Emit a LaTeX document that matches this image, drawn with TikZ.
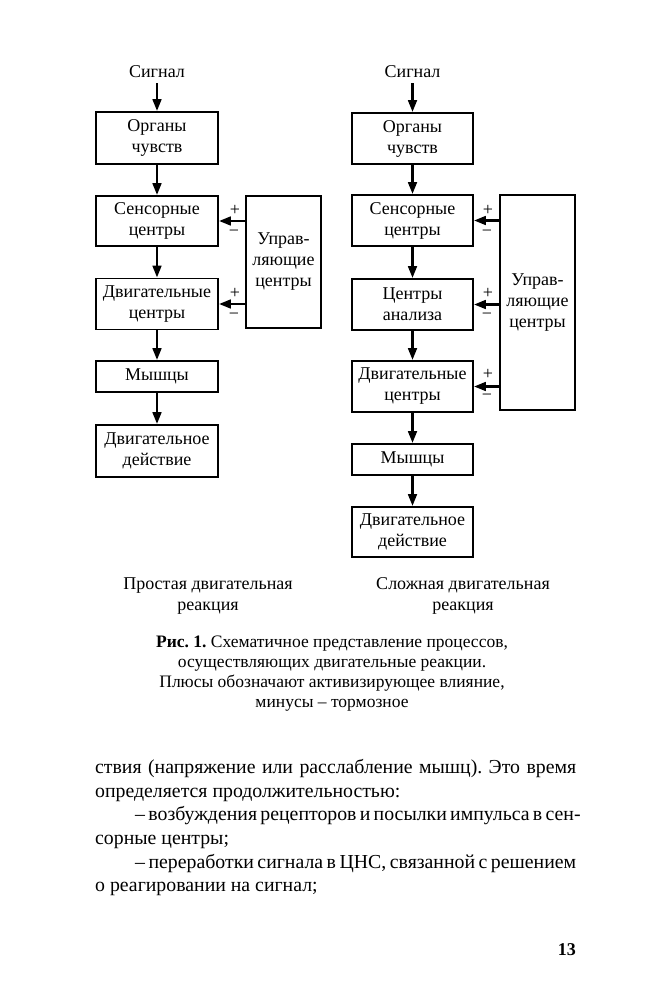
\documentclass[tikz,border=0pt]{standalone}
\usepackage{fontspec}
\setmainfont{Liberation Serif}
\usetikzlibrary{arrows.meta}
\newcommand\dfont{\fontsize{18}{21}\selectfont}
\newcommand\cfont{\fontsize{17.5}{20}\selectfont}
\newcommand\bfont{\fontsize{19.8}{23.6}\selectfont}
\frenchspacing
\begin{document}
\begin{tikzpicture}[x=1pt,y=-1pt,
  box/.style={draw, line width=1.6pt, font=\dfont, align=center, inner sep=0pt, minimum width=122pt},
  ctrl/.style={draw, line width=1.6pt, font=\dfont, align=center, inner sep=0pt, minimum width=75pt},
  arr/.style={line width=2.8pt, -{Triangle[width=8.5pt,length=12pt]}},
  lbl/.style={font=\dfont, inner sep=0pt},
  pm/.style={font=\dfont, inner sep=0pt}]
\useasboundingbox (0,0) rectangle (651,1000);
\fill[white] (0,0) rectangle (651,1000);

% ---------- left diagram ----------
\node[lbl, anchor=base] (sigL) at (157,78) {Сигнал};
\node[box, minimum height=52pt] (orgL) at (157,138) {Органы\\чувств};
\node[box, minimum height=50pt] (sensL) at (157,221) {Сенсорные\\центры};
\node[box, minimum height=51pt] (motL) at (157,304) {Двигательные\\центры};
\node[box, minimum height=31pt] (musL) at (157,376.5) {Мышцы};
\node[box, minimum height=52pt] (actL) at (157,451) {Двигательное\\действие};
\node[ctrl, minimum height=132pt] (ctrlL) at (283.5,262) {Управ-\\ляющие\\центры};

\draw[arr] ([yshift=-5pt]sigL.south) -- (orgL.north);
\draw[arr] (orgL) -- (sensL);
\draw[arr] (sensL) -- (motL);
\draw[arr] (motL) -- (musL);
\draw[arr] (musL) -- (actL);
\draw[arr] (ctrlL.west |- sensL.east) -- (sensL.east);
\draw[arr] (ctrlL.west |- motL.east) -- (motL.east);
\node[pm] (pL1) at (235,210) {+};
\node[pm] (mL1) at (234,233) {−};
\node[pm] (pL2) at (235,293) {+};
\node[pm] (mL2) at (234,316) {−};

% ---------- right diagram ----------
\node[lbl, anchor=base] (sigR) at (412.5,78) {Сигнал};
\node[box, minimum width=121pt, minimum height=51pt] (orgR) at (412.5,138.5) {Органы\\чувств};
\node[box, minimum width=121pt, minimum height=51pt] (sensR) at (412.5,220.5) {Сенсорные\\центры};
\node[box, minimum width=121pt, minimum height=51pt] (anR) at (412.5,304.5) {Центры\\анализа};
\node[box, minimum width=121pt, minimum height=51pt] (motR) at (412.5,386.5) {Двигательные\\центры};
\node[box, minimum width=121pt, minimum height=31pt] (musR) at (412.5,459.5) {Мышцы};
\node[box, minimum width=121pt, minimum height=50pt] (actR) at (412.5,532) {Двигательное\\действие};
\node[ctrl, minimum height=215pt] (ctrlR) at (537.5,302.5) {Управ-\\ляющие\\центры};

\draw[arr] ([yshift=-5pt]sigR.south) -- (orgR.north);
\draw[arr] (orgR) -- (sensR);
\draw[arr] (sensR) -- (anR);
\draw[arr] (anR) -- (motR);
\draw[arr] (motR) -- (musR);
\draw[arr] (musR) -- (actR);
\draw[arr] (ctrlR.west |- sensR.east) -- (sensR.east);
\draw[arr] (ctrlR.west |- anR.east) -- (anR.east);
\draw[arr] (ctrlR.west |- motR.east) -- (motR.east);
\node[pm] (pR1) at (488,210) {+};
\node[pm] (mR1) at (487,233) {−};
\node[pm] (pR2) at (488,293) {+};
\node[pm] (mR2) at (487,316) {−};
\node[pm] (pR3) at (488,374) {+};
\node[pm] (mR3) at (487,397) {−};

% ---------- captions ----------
\node[font=\dfont, align=center, anchor=base, inner sep=0pt] (capL) at (208,610) {Простая двигательная\\реакция};
\node[font=\dfont, align=center, anchor=base, inner sep=0pt] (capR) at (463,610) {Сложная двигательная\\реакция};
\node[font=\cfont, align=center, anchor=base, inner sep=0pt] (fig) at (332,707)
  {\textbf{Рис. 1.} Схематичное представление процессов,\\
   осуществляющих двигательные реакции.\\
   Плюсы обозначают активизирующее влияние,\\
   минусы – тормозное};

% ---------- body text ----------
\node[font=\bfont, anchor=base west, inner sep=0pt] (t1) at (95,773) {\makebox[481pt][s]{ствия (напряжение или расслабление мышц). Это время}};
\node[font=\bfont, anchor=base west, inner sep=0pt] (t2) at (95,797) {определяется продолжительностью:};
\node[font=\bfont, anchor=base west, inner sep=0pt] (t3) at (135,820) {\makebox[441pt][s]{– возбуждения рецепторов и посылки импульса в сен-}};
\node[font=\bfont, anchor=base west, inner sep=0pt] (t4) at (95,844) {сорные центры;};
\node[font=\bfont, anchor=base west, inner sep=0pt] (t5) at (135,868) {\makebox[441pt][s]{– переработки сигнала в ЦНС, связанной с решением}};
\node[font=\bfont, anchor=base west, inner sep=0pt] (t6) at (95,891) {о реагировании на сигнал;};
\node[font=\fontsize{18}{20}\selectfont\bfseries, anchor=base east, inner sep=0pt] (pg) at (576,955) {13};
\end{tikzpicture}
\end{document}
